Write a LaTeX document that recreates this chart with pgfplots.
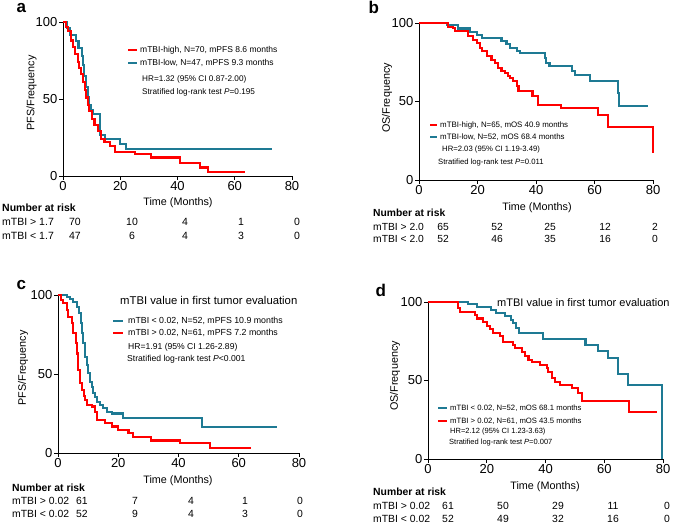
\documentclass[border=0pt]{standalone}
\usepackage{pgfplots}
\pgfplotsset{compat=1.18}
\usepackage{fontspec}
\setmainfont{Liberation Sans}
\definecolor{kmred}{RGB}{255,0,0}
\definecolor{kmblue}{RGB}{30,122,148}
\pgfplotsset{kmaxis/.style={
  scale only axis, anchor=south west,
  axis x line*=bottom, axis y line*=left,
  xmin=0,xmax=80,ymin=0,ymax=100,
  xtick={0,20,40,60,80}, ytick={0,50,100},
  tick align=outside, major tick length=4pt,
  every tick/.style={black, line width=0.8pt},
  axis line style={line width=0.8pt, -},
  tick label style={font=\fontsize{13}{14}\selectfont, inner sep=1.5pt},
  /pgf/number format/assume math mode=true,
  clip=false,
}}
\tikzset{km/.style={const plot, line width=2.1pt, line join=miter, no marks}}
\newcommand{\fs}[1]{\fontsize{#1}{#1}\selectfont}
\begin{document}
\begin{tikzpicture}[x=1pt,y=1pt]
\path[use as bounding box] (0,0) rectangle (685,526);

% ---------------- panel a
\begin{axis}[kmaxis, at={(63pt,350pt)}, width=229pt, height=154pt]
\addplot[km, kmblue] coordinates {(0,100)(1.5,96)(2.3,91.5)(4.6,87.5)(5.4,83)(6.5,78)(7,72)(7.4,65)(8,58)(8.6,51)(9.1,46)(9.7,42.5)(10.5,40)(13,26.5)(14.8,23.8)(20,20.5)(22,17.4)(73,17.4)};
\addplot[km, kmred] coordinates {(0,100)(1,97)(1.7,94)(2.8,88)(3.5,84)(4.2,79)(5.1,74)(5.6,70)(6.3,66)(7.1,61)(7.6,56)(8,51)(8.6,46)(9.2,42)(10,37)(11,33)(12.2,29)(13.3,24)(14.5,22)(16.4,19.5)(18.2,15.5)(25.2,14)(30.9,12)(40.9,8.6)(47.8,5.5)(50.6,2.8)(63.6,2.8)};
\end{axis}
\node[font=\bfseries\fs{17}, anchor=base west] at (13,513) {a};
\node[font=\fs{10.8}, rotate=90] at (31.5,433) {PFS/Frequency};
\node[font=\fs{10.8}] at (178,323) {Time (Months)};
\draw[kmred, line width=2.1pt] (128,476) -- (137,476);
\node[font=\fs{8.5}, anchor=west, inner sep=0pt] at (140,476) {mTBI-high, N=70, mPFS 8.6 months};
\draw[kmblue, line width=2.1pt] (128,463) -- (137,463);
\node[font=\fs{8.5}, anchor=west, inner sep=0pt] at (140,463) {mTBI-low, N=47, mPFS 9.3 months};
\node[font=\fs{8.2}, anchor=west, inner sep=0pt] at (142,447) {HR=1.32 (95\% CI 0.87-2.00)};
\node[font=\fs{8.2}, anchor=west, inner sep=0pt] at (142,434) {Stratified log-rank test \textit{P}=0.195};
\node[font=\bfseries\fs{10.5}, anchor=base west, inner sep=0pt] at (2,314) {Number at risk};
\node[font=\fs{10.5}, anchor=base west, inner sep=0pt] at (2,300) {mTBI > 1.7};
\node[font=\fs{10.5}, anchor=base west, inner sep=0pt] at (2,286) {mTBI < 1.7};
\foreach \x/\v in {75/70,132/10,185/4,241/1,297/0} \node[font=\fs{10.5}, anchor=base, inner sep=0pt] at (\x,300) {\v};
\foreach \x/\v in {75/47,132/6,185/4,241/3,297/0} \node[font=\fs{10.5}, anchor=base, inner sep=0pt] at (\x,286) {\v};

% ---------------- panel b
\begin{axis}[kmaxis, at={(419pt,346pt)}, width=234pt, height=157pt]
\addplot[km, kmblue] coordinates {(0,100)(9.5,98.5)(13.4,96.5)(17.4,94.4)(19.7,92.4)(21.4,90.5)(28.2,88.5)(29.9,86.5)(31.1,84.3)(33.4,82)(34.5,80.6)(43,77.5)(43.5,74.5)(44.6,72.4)(52.2,69.2)(53.3,67)(58.5,63.3)(68.1,55.4)(68.5,46.9)(78.4,46.9)};
\addplot[km, kmred] coordinates {(0,100)(10,97.7)(11.7,96.8)(12.3,94.7)(16.9,91.5)(18.6,89.4)(19.7,87.3)(20.9,84)(21.4,81.9)(23.1,78.8)(24.8,76.6)(26,74.5)(27.1,71.3)(28.2,69.5)(29.4,68.2)(30.3,66)(31.1,65)(32.2,62.8)(33.4,59.7)(34,56.5)(38.8,53.3)(40.8,47.9)(48.4,45.9)(61.3,41.6)(64.7,33.6)(80,17.2)};
\end{axis}
\node[font=\bfseries\fs{17}, anchor=base west] at (365,512) {b};
\node[font=\fs{10.8}, rotate=90] at (387,428) {OS/Frequency};
\node[font=\fs{10.8}] at (537,318) {Time (Months)};
\draw[kmred, line width=2.1pt] (430,401) -- (437,401);
\node[font=\fs{7.9}, anchor=west, inner sep=0pt] at (440,401) {mTBI-high, N=65, mOS 40.9 months};
\draw[kmblue, line width=2.1pt] (430,389) -- (437,389);
\node[font=\fs{7.9}, anchor=west, inner sep=0pt] at (440,389) {mTBI-low, N=52, mOS 68.4 months};
\node[font=\fs{7.7}, anchor=west, inner sep=0pt] at (442,376) {HR=2.03 (95\% CI 1.19-3.49)};
\node[font=\fs{7.7}, anchor=west, inner sep=0pt] at (438,363) {Stratified log-rank test \textit{P}=0.011};
\node[font=\bfseries\fs{10.3}, anchor=base west, inner sep=0pt] at (373,309) {Number at risk};
\node[font=\fs{10.3}, anchor=base west, inner sep=0pt] at (373,295) {mTBI > 2.0};
\node[font=\fs{10.3}, anchor=base west, inner sep=0pt] at (373,283) {mTBI < 2.0};
\foreach \x/\v in {443/65,497/52,550/25,605/12,655/2} \node[font=\fs{10.3}, anchor=base, inner sep=0pt] at (\x,295) {\v};
\foreach \x/\v in {443/52,497/46,550/35,605/16,655/0} \node[font=\fs{10.3}, anchor=base, inner sep=0pt] at (\x,283) {\v};

% ---------------- panel c
\begin{axis}[kmaxis, at={(58pt,73pt)}, width=241pt, height=158pt]
\addplot[km, kmblue] coordinates {(0,100)(2.9,99)(4,97.5)(5.1,95.8)(6.2,92.6)(7,88.4)(7.6,82)(8.1,75.8)(8.4,69.4)(9,61)(9.5,55.7)(10.1,50.4)(10.6,45.1)(11.2,41.9)(11.7,37.7)(12.3,35.6)(12.8,32.4)(13.9,30.4)(15,28.3)(16.2,26.2)(17.8,25)(21.7,22)(47.7,16.3)(72.8,16.3)};
\addplot[km, kmred] coordinates {(0,100)(1,97)(1.8,94.7)(2.9,90.5)(3.4,86.3)(4.5,82)(5.1,75.8)(5.9,69.4)(6.2,63)(6.7,52.6)(7.3,44.2)(7.9,40)(8.5,36)(9,33.6)(9.5,30.4)(11.2,29.4)(12.3,26.2)(12.8,21)(15.6,19)(17.8,16.8)(20,14.6)(23.4,12.5)(25,10)(30.8,7.9)(40.5,6.1)(50.4,3)(64,3)};
\end{axis}
\node[font=\bfseries\fs{17}, anchor=base west] at (13,236) {c};
\node[font=\fs{10.8}, rotate=90] at (23,158) {PFS/Frequency};
\node[font=\fs{10.8}] at (178,45) {Time (Months)};
\node[font=\fs{11.3}, anchor=west, inner sep=0pt] at (120,226) {mTBI value in first tumor evaluation};
\draw[kmblue, line width=2.1pt] (113,205) -- (123,205);
\node[font=\fs{8.8}, anchor=west, inner sep=0pt] at (128,205) {mTBI < 0.02, N=52, mPFS 10.9 months};
\draw[kmred, line width=2.1pt] (113,193) -- (123,193);
\node[font=\fs{8.8}, anchor=west, inner sep=0pt] at (128,193) {mTBI > 0.02, N=61, mPFS 7.2 months};
\node[font=\fs{8.6}, anchor=west, inner sep=0pt] at (128,179) {HR=1.91 (95\% CI 1.26-2.89)};
\node[font=\fs{8.6}, anchor=west, inner sep=0pt] at (127,167) {Stratified log-rank test \textit{P}<0.001};
\node[font=\bfseries\fs{10.4}, anchor=base west, inner sep=0pt] at (12,34) {Number at risk};
\node[font=\fs{10.4}, anchor=base west, inner sep=0pt] at (12,21) {mTBI > 0.02};
\node[font=\fs{10.4}, anchor=base west, inner sep=0pt] at (12,8) {mTBI < 0.02};
\foreach \x/\v in {82/61,135/7,191/4,245/1,300/0} \node[font=\fs{10.4}, anchor=base, inner sep=0pt] at (\x,21) {\v};
\foreach \x/\v in {82/52,135/9,191/4,245/3,300/0} \node[font=\fs{10.4}, anchor=base, inner sep=0pt] at (\x,8) {\v};

% ---------------- panel d
\begin{axis}[kmaxis, at={(428pt,67pt)}, width=235pt, height=157pt]
\addplot[km, kmblue] coordinates {(0,100)(13.5,98.7)(16.8,97)(21.3,94.9)(23.3,93.2)(26.2,91.2)(28.2,88.5)(29,86.4)(30,83.2)(30.9,80)(39.3,76.6)(53.6,72.8)(58,68.9)(61.2,64.5)(64.7,53.9)(68.1,47.2)(79.8,0)};
\addplot[km, kmred] coordinates {(0,100)(10.3,96)(11,93.9)(16,91.7)(16.8,89.5)(18.8,87.5)(20,84.8)(21.1,83)(22.2,80)(24.5,78.5)(25.6,74.7)(29,72.6)(29.6,70.5)(31.9,68.4)(33,65.5)(34.2,63.1)(35.3,61.5)(38.1,59.9)(40.4,57.8)(41,55.2)(42.3,51.5)(43.3,48.8)(45,47.3)(48.9,45)(51.2,41.8)(52.3,37)(68.3,29.7)(77.8,29.7)};
\end{axis}
\node[font=\bfseries\fs{17}, anchor=base west] at (372,229) {d};
\node[font=\fs{10.8}, rotate=90] at (395,150) {OS/Frequency};
\node[font=\fs{10.8}] at (545,39) {Time (Months)};
\node[font=\fs{11}, anchor=west, inner sep=0pt] at (497,223) {mTBI value in first tumor evaluation};
\draw[kmblue, line width=2.1pt] (438,118) -- (447,118);
\node[font=\fs{7.7}, anchor=west, inner sep=0pt] at (450,118) {mTBI < 0.02, N=52, mOS 68.1 months};
\draw[kmred, line width=2.1pt] (438,105) -- (447,105);
\node[font=\fs{7.7}, anchor=west, inner sep=0pt] at (450,105) {mTBI > 0.02, N=61, mOS 43.5 months};
\node[font=\fs{7.5}, anchor=west, inner sep=0pt] at (450,94) {HR=2.12 (95\% CI 1.23-3.63)};
\node[font=\fs{7.5}, anchor=west, inner sep=0pt] at (449,83) {Stratified log-rank test \textit{P}=0.007};
\node[font=\bfseries\fs{10.4}, anchor=base west, inner sep=0pt] at (373,30) {Number at risk};
\node[font=\fs{10.4}, anchor=base west, inner sep=0pt] at (373,16) {mTBI > 0.02};
\node[font=\fs{10.4}, anchor=base west, inner sep=0pt] at (373,3) {mTBI < 0.02};
\foreach \x/\v in {448/61,503/50,558/29,613/11,667/0} \node[font=\fs{10.4}, anchor=base, inner sep=0pt] at (\x,16) {\v};
\foreach \x/\v in {448/52,503/49,558/32,613/16,667/0} \node[font=\fs{10.4}, anchor=base, inner sep=0pt] at (\x,3) {\v};
\end{tikzpicture}
\end{document}
